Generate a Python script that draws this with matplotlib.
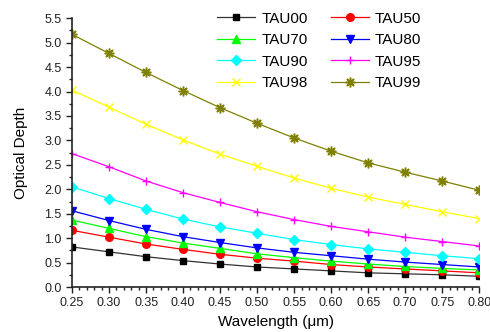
import matplotlib
matplotlib.use('Agg')
import matplotlib.pyplot as plt
from matplotlib.ticker import MultipleLocator

plt.rcParams['font.family'] = ['Liberation Sans', 'DejaVu Sans']

wavelength = [0.25, 0.30, 0.35, 0.40, 0.45, 0.50, 0.55, 0.60, 0.65, 0.70, 0.75, 0.80]

tau00 = [0.82, 0.72, 0.62, 0.54, 0.47, 0.41, 0.37, 0.33, 0.29, 0.27, 0.25, 0.22]
tau50 = [1.16, 1.02, 0.88, 0.77, 0.67, 0.59, 0.53, 0.46, 0.41, 0.37, 0.33, 0.29]
tau70 = [1.37, 1.20, 1.03, 0.90, 0.79, 0.68, 0.60, 0.53, 0.47, 0.42, 0.38, 0.35]
tau80 = [1.56, 1.36, 1.18, 1.03, 0.91, 0.80, 0.71, 0.64, 0.57, 0.51, 0.46, 0.41]
tau90 = [2.05, 1.81, 1.59, 1.39, 1.23, 1.10, 0.97, 0.87, 0.78, 0.71, 0.64, 0.58]
tau95 = [2.73, 2.46, 2.17, 1.93, 1.73, 1.54, 1.38, 1.24, 1.13, 1.02, 0.93, 0.84]
tau98 = [4.03, 3.68, 3.33, 3.01, 2.72, 2.47, 2.23, 2.02, 1.84, 1.69, 1.54, 1.40]
tau99 = [5.17, 4.78, 4.39, 4.02, 3.67, 3.35, 3.05, 2.78, 2.54, 2.35, 2.17, 1.98]

series = [
    ('TAU00', tau00, '#000000', 's', 5),
    ('TAU50', tau50, '#ff0000', 'o', 5.5),
    ('TAU70', tau70, '#00ff00', '^', 6),
    ('TAU80', tau80, '#0000ff', 'v', 6),
    ('TAU90', tau90, '#00ffff', 'D', 5),
    ('TAU95', tau95, '#ff00ff', '+', 6),
    ('TAU98', tau98, '#ffff00', 'x', 6),
    ('TAU99', tau99, '#808000', '$\u2733$', 6.5),
]

fig = plt.figure(figsize=(4.9, 3.32), dpi=100)
ax = fig.add_axes([0.147, 0.1355, 0.831, 0.8095])

lines = {}
for name, vals, col, mk, ms in series:
    lc = '#333333' if col == '#000000' else col
    ln, = ax.plot(wavelength, vals, color=lc, lw=0.9, marker=mk, markersize=ms,
                  markerfacecolor=col, markeredgecolor=col, markeredgewidth=1.0, label=name)
    lines[name] = ln

ax.set_xlim(0.25, 0.80)
ax.set_ylim(0, 5.5)
ax.xaxis.set_major_locator(MultipleLocator(0.05))
ax.xaxis.set_minor_locator(MultipleLocator(0.01))
ax.yaxis.set_major_locator(MultipleLocator(0.5))
ax.yaxis.set_minor_locator(MultipleLocator(0.25))
ax.xaxis.set_major_formatter(plt.FormatStrFormatter('%.2f'))
ax.yaxis.set_major_formatter(plt.FormatStrFormatter('%.1f'))

for s in ['top', 'right']:
    ax.spines[s].set_visible(False)
for s in ['left', 'bottom']:
    ax.spines[s].set_linewidth(1.2)
    ax.spines[s].set_color('#222222')
ax.tick_params(which='major', direction='out', length=4, width=1, labelsize=9, colors='#222222')
ax.tick_params(which='minor', direction='out', length=2.5, width=1, colors='#222222')

ax.set_xlabel('Wavelength (\u03bcm)', fontsize=11, labelpad=4)
ax.set_ylabel('Optical Depth', fontsize=11, labelpad=12)

# legend filled row by row: left column 00/70/90/98, right column 50/80/95/99
order = ['TAU00', 'TAU70', 'TAU90', 'TAU98', 'TAU50', 'TAU80', 'TAU95', 'TAU99']
ax.legend([lines[n] for n in order], order, ncol=2, loc='upper left',
          bbox_to_anchor=(0.356, 1.025), frameon=False, borderpad=0, borderaxespad=0,
          fontsize=11, handlelength=2.5, handletextpad=0.4, columnspacing=1.5,
          labelspacing=0.5)

fig.savefig('out.png', dpi=100)
